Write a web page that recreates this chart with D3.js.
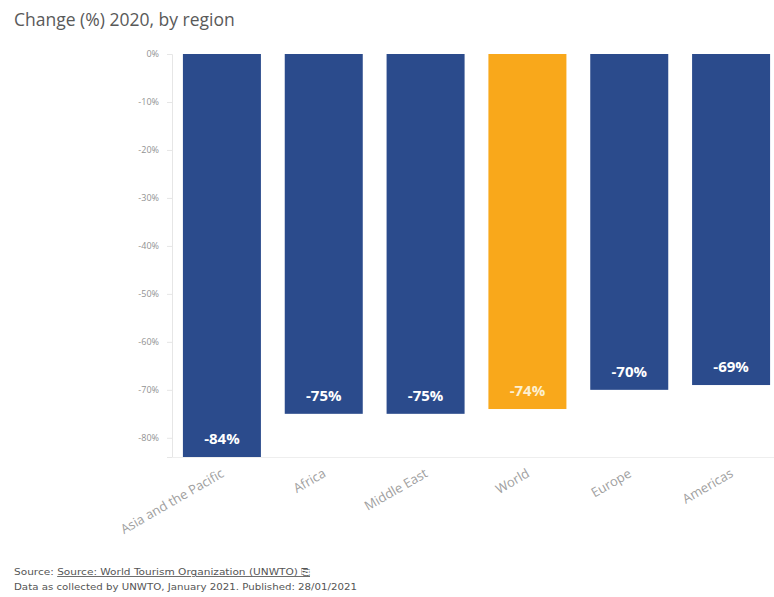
<!DOCTYPE html>
<html>
<head>
<meta charset="utf-8">
<script src="https://cdn.jsdelivr.net/npm/d3@7"></script>
<style>
  html, body { margin: 0; padding: 0; background: #fff; }
  svg { display: block; }
</style>
</head>
<body>
<svg id="chart" width="774" height="597"></svg>
<script>
// Regions and their 2020 change in international tourist arrivals (%)
const regions = ["Asia and the Pacific", "Africa", "Middle East", "World", "Europe", "Americas"];
const changes = [-84, -75, -75, -74, -70, -69];
const highlight = ["World"];
const yTicks = [0, -10, -20, -30, -40, -50, -60, -70, -80];

const svg = d3.select("#chart");
const font = "'Open Sans', 'Noto Sans', sans-serif";

const x = d3.scaleBand()
  .domain(regions)
  .range([171, 782])
  .paddingInner(0.234)
  .paddingOuter(0.117);

const y = d3.scaleLinear()
  .domain([0, -84])
  .range([54, 457]);

// Title
svg.append("text")
  .attr("x", 14).attr("y", 26)
  .attr("font-family", font)
  .attr("font-size", 17.5)
  .attr("fill", "#595959")
  .text("Change (%) 2020, by region");

// Y axis
const yAxis = svg.append("g")
  .attr("transform", "translate(172,0)")
  .call(d3.axisLeft(y).tickValues(yTicks).tickFormat(d => d + "%").tickSize(5).tickPadding(8));
yAxis.select(".domain").attr("stroke", "#e6e6e6");
yAxis.selectAll(".tick line").attr("stroke", "#e6e6e6");
yAxis.selectAll(".tick text")
  .attr("font-family", font)
  .attr("font-size", 9)
  .attr("fill", "#929292");

// Baseline along the bottom of the plot
svg.append("line")
  .attr("x1", 172).attr("x2", 774)
  .attr("y1", y(-84) + 0.5).attr("y2", y(-84) + 0.5)
  .attr("stroke", "#eeeeee");

const data = regions.map((r, i) => ({ region: r, value: changes[i] }));

// Bars
svg.append("g").selectAll("rect")
  .data(data)
  .join("rect")
  .attr("x", d => x(d.region))
  .attr("width", x.bandwidth())
  .attr("y", y(0))
  .attr("height", d => y(d.value) - y(0))
  .attr("fill", d => highlight.includes(d.region) ? "#f9a81b" : "#2b4b8c");

// Value labels inside the bars
svg.append("g").selectAll("text")
  .data(data)
  .join("text")
  .attr("x", d => x(d.region) + x.bandwidth() / 2)
  .attr("y", d => y(d.value) - 13)
  .attr("text-anchor", "middle")
  .attr("font-family", font)
  .attr("font-size", 15)
  .attr("font-weight", "bold")
  .attr("fill", d => highlight.includes(d.region) ? "#fdf0d0" : "#ffffff")
  .text(d => d.value + "%");

// Rotated category labels
svg.append("g").selectAll("text")
  .data(data)
  .join("text")
  .attr("transform", d => `translate(${x(d.region) + x.bandwidth() / 2 + 3},${y(-84) + 19}) rotate(-30)`)
  .attr("text-anchor", "end")
  .attr("font-family", font)
  .attr("font-size", 13)
  .attr("fill", "#a0a0a0")
  .text(d => d.region);

// Source notes
const note = svg.append("text")
  .attr("x", 14).attr("y", 575)
  .attr("font-family", "'DejaVu Sans', sans-serif")
  .attr("font-size", 8.5)
  .attr("fill", "#555")
  .attr("textLength", 296)
  .attr("lengthAdjust", "spacingAndGlyphs");
note.append("tspan").text("Source: ");
note.append("tspan").attr("text-decoration", "underline").text("Source: World Tourism Organization (UNWTO) ⎘");

svg.append("text")
  .attr("x", 14).attr("y", 590)
  .attr("font-family", "'DejaVu Sans', sans-serif")
  .attr("font-size", 8.5)
  .attr("fill", "#555")
  .attr("textLength", 343)
  .attr("lengthAdjust", "spacingAndGlyphs")
  .text("Data as collected by UNWTO, January 2021. Published: 28/01/2021");
</script>
</body>
</html>
